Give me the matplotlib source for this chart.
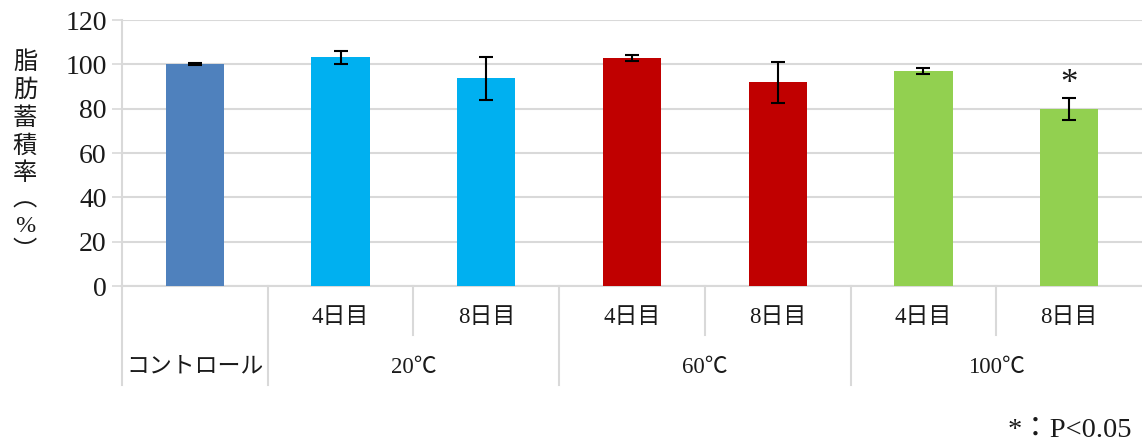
import matplotlib
matplotlib.use("Agg")
import matplotlib.pyplot as plt
import numpy as np
from matplotlib.transforms import blended_transform_factory

# ---- data ----
groups = ["コントロール", "20℃", "20℃", "60℃", "60℃", "100℃", "100℃"]
days = ["", "4日目", "8日目", "4日目", "8日目", "4日目", "8日目"]
group_labels = ["コントロール", "20℃", "60℃", "100℃"]
group_sizes = [1, 2, 2, 2]
values = [100.2, 103.2, 93.7, 102.8, 91.9, 97.0, 79.8]
errors = [0.3, 3.0, 9.7, 1.5, 9.3, 1.4, 5.0]
significant = [False, False, False, False, False, False, True]
colors = ["#4F81BD", "#00B0F0", "#00B0F0", "#C00000", "#C00000", "#92D050", "#92D050"]
yticks = [0, 20, 40, 60, 80, 100, 120]
ylabel = "脂\n肪\n蓄\n積\n率\n︵\n%\n︶"
note = "*：P<0.05"

FONT = ["Liberation Serif", "Noto Sans CJK JP", "DejaVu Sans"]
plt.rcParams["font.family"] = FONT
TXT = "#1a1a1a"
GRID = "#d9d9d9"

W, H = 1142, 448
fig = plt.figure(figsize=(W / 100, H / 100), dpi=100)
ax = fig.add_axes([122 / W, (H - 286) / H, 1 - 122 / W, 266 / H])

x = np.arange(len(values))
ax.bar(x, values, width=0.4, color=colors, zorder=3)
ax.errorbar(x, values, yerr=errors, fmt="none", ecolor="black",
            elinewidth=1.5, capsize=5, capthick=1.5, zorder=4)
for xi, v, e, s in zip(x, values, errors, significant):
    if s:
        ax.text(xi, v + e - 1.5, "*", ha="center", va="bottom",
                fontsize=25, color=TXT)

ax.set_xlim(-0.5, len(values) - 0.5)
ax.set_ylim(0, 120)
ax.set_yticks(yticks)
ax.set_yticklabels([str(t) for t in yticks], fontsize=20, color=TXT)
ax.tick_params(axis="y", length=7, color=GRID, width=1.2, pad=4)
ax.set_xticks([])
ax.grid(axis="y", color=GRID, linewidth=1.5, zorder=0)
for sp in ["top", "right"]:
    ax.spines[sp].set_visible(False)
ax.spines["left"].set_color(GRID)
ax.spines["left"].set_linewidth(1.5)
ax.spines["bottom"].set_color(GRID)
ax.spines["bottom"].set_linewidth(1.5)

# category axis (two rows)
tr = blended_transform_factory(ax.transData, ax.transAxes)
row1_y, row2_y = -0.12, -0.305
minor_bottom, major_bottom = -0.184, -0.372
for xi, d in zip(x, days):
    if d:
        ax.text(xi, row1_y, d, transform=tr, ha="center", va="center",
                fontsize=16.5, color=TXT)
start = 0
bounds = [-0.5]
for gl, gs in zip(group_labels, group_sizes):
    center = start + (gs - 1) / 2
    ax.text(center, row2_y, gl, transform=tr, ha="center", va="center",
            fontsize=16.5, color=TXT)
    for k in range(1, gs):
        xs = start - 0.5 + k
        ax.plot([xs, xs], [0, minor_bottom], transform=tr, color=GRID,
                lw=1.5, clip_on=False)
    start += gs
    bounds.append(start - 0.5)
for b in bounds[:-1]:
    ax.plot([b, b], [0, major_bottom], transform=tr, color=GRID,
            lw=1.5, clip_on=False)

fig.text(25 / W, 1 - 157 / H, ylabel, ha="center", va="center",
         fontsize=17.5, color=TXT, linespacing=1.3)
fig.text(1132 / W, 1 - 430 / H, note, ha="right", va="center",
         fontsize=20.5, color=TXT)

fig.savefig("out.png", dpi=100)
